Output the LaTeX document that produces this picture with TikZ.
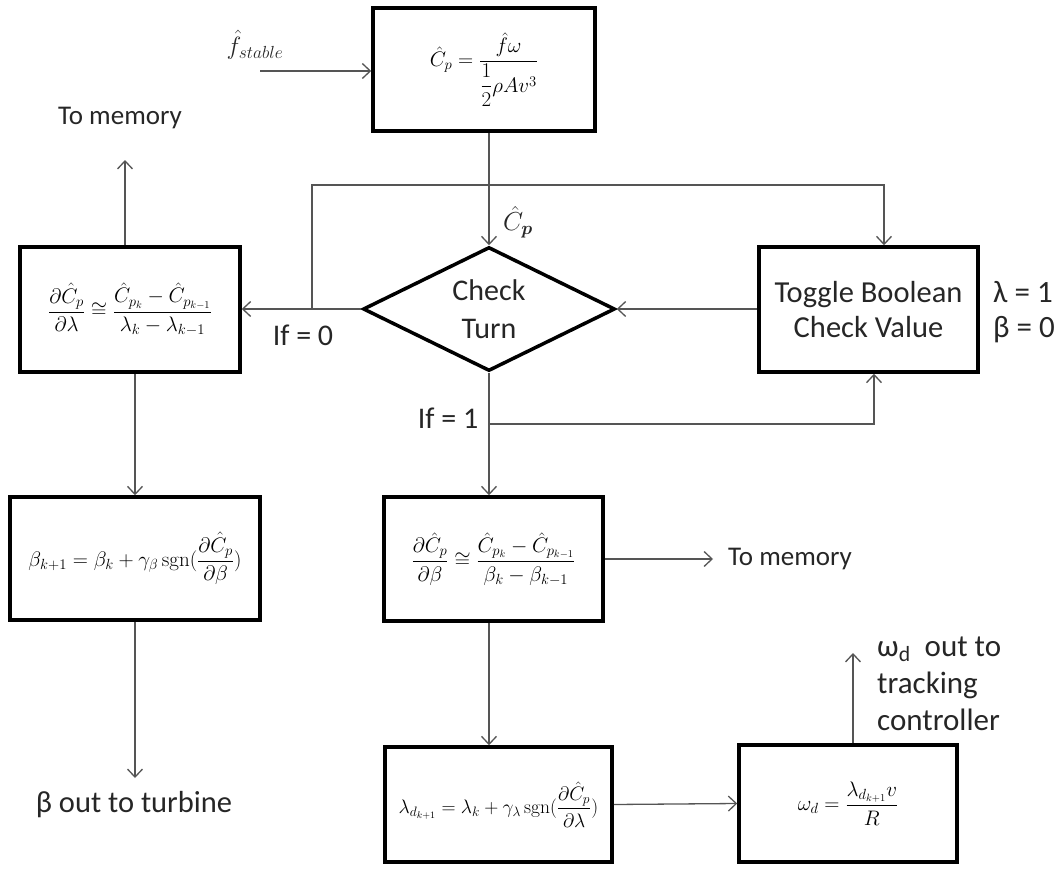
\RequirePackage{fix-cm}
\documentclass[tikz,border=0pt]{standalone}
\usepackage{amsmath}
\usepackage{fontspec}
\setmainfont{Carlito}
\usetikzlibrary{shapes.geometric,arrows.meta,calc}
\definecolor{linegray}{HTML}{555555}
\definecolor{txtgray}{HTML}{262626}
\newcommand{\lblfont}{\fontsize{30}{36}\selectfont}
\newcommand{\mfont}{\fontsize{21}{24}\selectfont}
\newcommand{\mysgn}{\text{\fontfamily{lmr}\selectfont sgn}}
\begin{document}
\begin{tikzpicture}[x=1pt,y=-1pt,
  box/.style={draw=black,line width=3.5pt,rectangle,inner sep=0pt,font=\mfont},
  conn/.style={draw=linegray,line width=1.3pt},
  arr/.style={conn,-{Straight Barb[length=8pt,width=15pt,line width=1.3pt]}},
  lbl/.style={text=txtgray,font=\lblfont,inner sep=0pt,align=center}]
\useasboundingbox (0,0) rectangle (1061,875);
% boxes
\node[box,minimum width=222pt,minimum height=123pt] (top) at (484,69.5)
  {$\hat{C}_p = \dfrac{\hat{f}\omega}{\dfrac{1}{2}\rho A v^3}$};
\node[box,minimum width=220pt,minimum height=125pt] (lbox) at (130,309.5)
  {$\dfrac{\partial \hat{C}_p}{\partial\lambda} \cong \dfrac{\hat{C}_{p_k}-\hat{C}_{p_{k-1}}}{\lambda_k-\lambda_{k-1}}$};
\node[diamond,draw=black,line width=3.5pt,inner sep=0pt,minimum width=252pt,minimum height=124pt] (dia) at (489,309) {};
\node[lbl,font=\fontsize{30}{38}\selectfont] (diatext) at (dia.center) {Check\\Turn};
\node[box,minimum width=219pt,minimum height=125pt,font=\fontsize{30.5}{35}\selectfont,align=center,text=txtgray] (toggle) at (868.5,309.5)
  {Toggle Boolean\\Check Value};
\node[box,minimum width=250pt,minimum height=123pt] (beta) at (135,558.5)
  {$\beta_{k+1} = \beta_k + \gamma_\beta\,\mysgn(\dfrac{\partial\hat{C}_p}{\partial\beta})$};
\node[box,minimum width=219pt,minimum height=124pt] (mid) at (493.5,559)
  {$\dfrac{\partial \hat{C}_p}{\partial\beta} \cong \dfrac{\hat{C}_{p_k}-\hat{C}_{p_{k-1}}}{\beta_k-\beta_{k-1}}$};
\node[box,minimum width=227pt,minimum height=115pt,font=\fontsize{19.5}{23}\selectfont] (lam) at (498.5,804.5)
  {$\lambda_{d_{k+1}} = \lambda_k + \gamma_\lambda\,\mysgn(\dfrac{\partial\hat{C}_p}{\partial\lambda})$};
\node[box,minimum width=218pt,minimum height=117pt] (omg) at (848,803.5)
  {$\omega_d = \dfrac{\lambda_{d_{k+1}} v}{R}$};
% free ends and junctions
\coordinate (fin) at (260,71);
\coordinate (j0) at (312,309);
\coordinate (tin) at (884,185);
\coordinate (j1) at (489,424);
\coordinate (tbot) at (874,424);
\coordinate (mem1) at (125,160);
\coordinate (bout) at (135,778);
\coordinate (mem2) at (713,559);
\coordinate (wout) at (853,653);
% connectors
\draw[arr] (fin) -- (fin -| top.west);
\draw[arr] (dia.north |- top.south) -- (dia.north);
\draw[arr] (dia.west) -- (lbox.east |- dia.west);
\draw[arr] (j0) |- (tin) -- (tin |- toggle.north);
\draw[arr] (toggle.west |- dia.east) -- (dia.east);
\draw[arr] (dia.south) -- (mid.north -| dia.south);
\draw[arr] (j1) -| (tbot |- toggle.south);
\draw[arr] (mem1 |- lbox.north) -- (mem1);
\draw[arr] (bout |- lbox.south) -- (bout |- beta.north);
\draw[arr] (beta.south -| bout) -- (bout);
\draw[arr] (mid.east |- mem2) -- (mem2);
\draw[arr] (dia.south |- mid.south) -- (dia.south |- lam.north);
\draw[arr] (lam.east) -- (omg.west);
\draw[arr] (wout |- omg.north) -- (wout);
% labels
\node[lbl,font=\fontsize{25}{28}\selectfont] (fst) at (255,45) {$\hat{f}_{stable}$};
\node[lbl,font=\fontsize{26}{30}\selectfont] (cpl) at (518,222) {$\hat{C}_{\boldsymbol{p}}$};
\node[lbl,font=\fontsize{27}{34}\selectfont] (m1) at (120,118) {To memory};
\node[lbl] (if0) at (303,335) {If = 0};
\node[lbl] (if1) at (448,418) {If = 1};
\node[lbl,anchor=west,align=left,font=\fontsize{31}{35}\selectfont] (lb) at (993,312.5) {λ = 1\\β = 0};
\node[lbl,anchor=west,font=\fontsize{27}{34}\selectfont] (m2) at (728,559) {To memory};
\node[lbl,font=\fontsize{30.5}{36}\selectfont] (bt) at (134,805) {β out to turbine};
\node[lbl,anchor=west,align=left,font=\fontsize{31}{37}\selectfont] (wt) at (877,684) {ω\textsubscript{d}\ \ out to\\tracking\\controller};
\end{tikzpicture}
\end{document}
